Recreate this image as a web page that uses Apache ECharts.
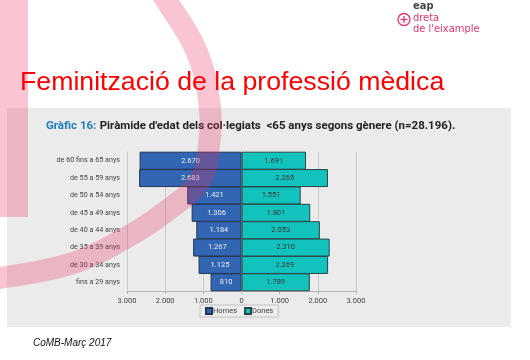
<!DOCTYPE html>
<html><head><meta charset="utf-8">
<script src="https://cdn.jsdelivr.net/npm/echarts@6/dist/echarts.min.js"></script>
<style>html,body{margin:0;padding:0;background:#fff}#c{width:530px;height:360px}</style>
</head><body><div id="c"></div>
<script>
var categories = ['de 60 fins a 65 anys','de 55 a 59 anys','de 50 a 54 anys','de 45 a 49 anys','de 40 a 44 anys','de 35 a 39 anys','de 30 a 34 anys','fins a 29 anys'];
var homes = [2670, 2683, 1421, 1306, 1184, 1267, 1125, 810];
var dones = [1691, 2265, 1551, 1801, 2053, 2310, 2269, 1789];
var seriesNames = ['Homes', 'Dones'];
var axisTicks = [-3000, -2000, -1000, 0, 1000, 2000, 3000];

function fmt(v){ v = Math.abs(v); var s = String(v); return s.replace(/\B(?=(\d{3})+(?!\d))/g, '.'); }

var chart = echarts.init(document.getElementById('c'));
var pink = 'rgba(235,40,90,0.27)';
var lblFont = "Roboto, sans-serif";
chart.setOption({
  backgroundColor: '#ffffff',
  animation: false,
  grid: { left: 127, right: 174, top: 152, bottom: 69, containLabel: false },
  xAxis: {
    type: 'value', min: axisTicks[0], max: axisTicks[axisTicks.length-1], interval: 1000,
    axisLine: { show: true, lineStyle: { color: '#b5b5b5', width: 1 } },
    axisTick: { show: true, length: 3, lineStyle: { color: '#b5b5b5' } },
    axisLabel: { formatter: function(v){ return fmt(v); }, fontSize: 7.5, color: '#444', margin: 6, fontFamily: lblFont },
    splitLine: { show: true, lineStyle: { color: '#c9c9c9', width: 1 } }
  },
  yAxis: {
    type: 'category', data: categories, inverse: true,
    axisLine: { show: true, onZero: false, lineStyle: { color: '#c9c9c9' } },
    axisTick: { show: false },
    axisLabel: { fontSize: 7.2, color: '#444', margin: 7, fontFamily: lblFont }
  },
  legend: {
    data: seriesNames, left: 200, top: 305, itemWidth: 6, itemHeight: 6, itemGap: 7,
    icon: 'rect', padding: [2, 5, 2, 5], borderColor: '#c3c3c3', borderWidth: 1, borderRadius: 0,
    backgroundColor: '#ededed',
    textStyle: { fontSize: 7.5, color: '#444', padding: [0,0,0,-4], fontFamily: lblFont }
  },
  series: [
    { name: seriesNames[0], type: 'bar', stack: 'p', barWidth: 18,
      data: homes.map(function(v){ return -v; }),
      itemStyle: { color: '#3366b2', borderColor: '#233552', borderWidth: 1, borderRadius: 0 },
      label: { show: true, position: 'inside', formatter: function(p){ return fmt(p.value); }, color: '#e8edf7', fontSize: 7.5, fontFamily: lblFont } },
    { name: seriesNames[1], type: 'bar', stack: 'p', barWidth: 18,
      data: dones,
      itemStyle: { color: '#12c3bd', borderColor: '#2a4446', borderWidth: 1, borderRadius: 0 },
      label: { show: true, position: 'inside', formatter: function(p){ return fmt(p.value); }, color: '#333', fontSize: 7.5, fontFamily: lblFont } }
  ],
  graphic: [
    { type: 'rect', z: -10, silent: true, shape: { x: 7, y: 108, width: 504, height: 219 }, style: { fill: '#ebebec' } },
    { type: 'text', z: 50, left: 46, top: 120, style: { text: '{a|Gràfic 16:} {b|Piràmide d\'edat dels col·legiats  <65 anys segons gènere (n=28.196).}',
        rich: { a: { fill: '#1b7dc0', fontSize: 11.5, fontWeight: 'bold', fontFamily: 'Roboto' }, b: { fill: '#222', fontSize: 11.5, fontWeight: 'bold', fontFamily: 'Roboto' } } } },
    { type: 'rect', z: 100, silent: true, shape: { x: 0, y: 0, width: 28, height: 217 }, style: { fill: pink } },
    { type: 'polyline', z: 100, silent: true, shape: { points: [[140,-40],[166,0],[196,50],[209,100],[209,145],[200,180],[164,213],[122,240],[76,262],[25,274],[-20,280]], smooth: 0.4 },
      style: { stroke: pink, lineWidth: 22, fill: null } },
    { type: 'text', z: 110, left: 20, top: 69, style: { text: 'Feminització de la professió mèdica', fill: '#ff0000', fontSize: 26.7, fontFamily: 'Liberation Sans' } },
    { type: 'text', z: 110, left: 33, top: 338, style: { text: 'CoMB-Març 2017', fill: '#111', fontSize: 10, fontStyle: 'italic', fontFamily: 'Liberation Sans' } },
    { type: 'text', z: 110, left: 413, top: 1, style: { text: 'eap', fill: '#444', fontSize: 11, fontWeight: 'bold', fontFamily: 'DejaVu Sans Condensed' } },
    { type: 'text', z: 110, left: 413, top: 13, style: { text: 'dreta', fill: '#e8336f', fontSize: 11, fontFamily: 'DejaVu Sans Condensed' } },
    { type: 'text', z: 110, left: 413, top: 24, style: { text: 'de l\'eixample', fill: '#e8336f', fontSize: 11, fontFamily: 'DejaVu Sans Condensed' } },
    { type: 'circle', z: 110, shape: { cx: 404, cy: 19.5, r: 6 }, style: { fill: null, stroke: '#e8336f', lineWidth: 1.3 } },
    { type: 'line', z: 110, shape: { x1: 400.5, y1: 19.5, x2: 407.5, y2: 19.5 }, style: { stroke: '#e8336f', lineWidth: 1.3 } },
    { type: 'line', z: 110, shape: { x1: 404, y1: 16, x2: 404, y2: 23 }, style: { stroke: '#e8336f', lineWidth: 1.3 } }
  ]
});
</script></body></html>
